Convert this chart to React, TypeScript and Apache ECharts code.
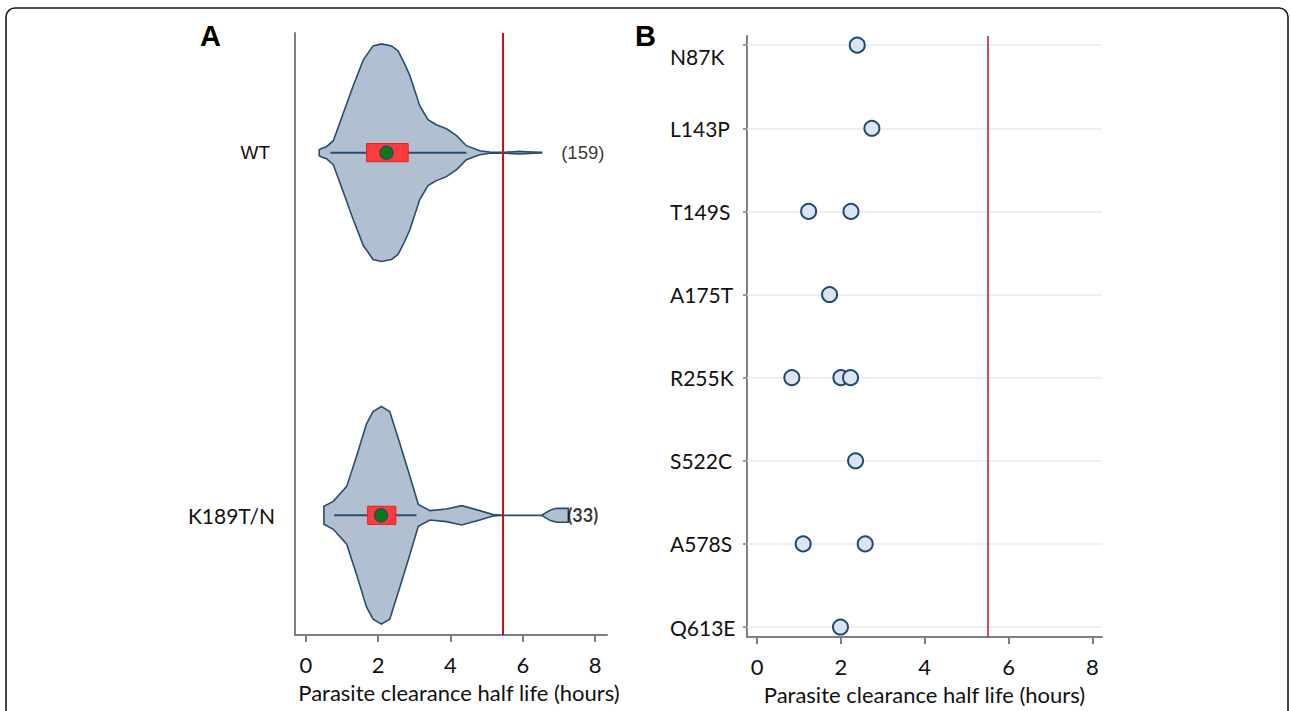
import React, { useEffect, useRef } from "react";
import * as echarts from "echarts";

// ---------- Panel A data ----------
const groupNames = ["K189T/N", "WT"]; // y = 0, 1
const groupCounts = ["(33)", "(159)"];

const wtDensityX = [0.37, 0.45, 0.57, 0.76, 1.04, 1.31, 1.59, 1.86, 2.09, 2.37, 2.55, 2.72, 2.88, 3.15, 3.38, 3.61, 3.89, 4.17, 4.44, 4.81, 5.09, 5.5, 5.75, 5.9, 6.1, 6.3, 6.52];
const wtDensity = [3, 4.5, 6, 12, 40, 67, 93, 107, 109, 107, 102, 90, 77, 47, 33, 28, 24, 17, 7, 2, 0.6, 0.5, 1, 1.3, 1, 0.6, 0.3];

const kDensityX = [0.5, 0.5, 0.76, 1.13, 1.4, 1.68, 1.86, 2.09, 2.32, 2.6, 2.88, 3.11, 3.43, 3.89, 4.31, 4.81, 5.18, 5.5, 6.0, 6.52, 6.75, 6.93, 7.15, 7.26, 7.26];
const kDensity = [0, 9, 14, 29, 59, 92, 104, 109, 104, 72, 39, 11, 4.7, 6.3, 9.7, 4.7, 0.7, 0, 0, 0, 5, 7, 7, 7, 0];

const boxLow = [1.71, 1.68];
const boxHigh = [2.49, 2.83];
const medians = [2.08, 2.23];
const whiskerLow = [0.78, 0.68];
const whiskerHigh = [3.06, 4.44];
const countLabelX = [7.66, 7.66];
const thresholdA = 5.45;

// ---------- Panel B data ----------
const mutations = ["N87K", "L143P", "T149S", "A175T", "R255K", "S522C", "A578S", "Q613E"];
const mutationValues = [[2.39], [2.74], [1.23, 2.24], [1.73], [0.83, 2.0, 2.23], [2.35], [1.1, 2.58], [1.99]];
const thresholdB = 5.5;

const xTicks = [0, 2, 4, 6, 8];
const xTitle = "Parasite clearance half life (hours)";

const FONT = "Lato, 'Noto Sans', sans-serif";
const ARIAL = "'Liberation Sans', Arial, sans-serif";
const AXIS_GREY = "#7f7f7f";
const OUTLINE = "#2b4c6f";

const DENSITY_MAX = 109;
const HALF_WIDTH_MAX = 0.3; // y-axis units
const BOX_HALF = 0.025;

export default function App() {
  const ref = useRef<HTMLDivElement>(null);

  useEffect(() => {
    document.body.style.margin = "0";
    if (!ref.current) return;
    const chart = echarts.init(ref.current, undefined, { renderer: "svg" });

    const densities = [
      { x: kDensityX, d: kDensity },
      { x: wtDensityX, d: wtDensity },
    ];
    const scale = HALF_WIDTH_MAX / DENSITY_MAX;
    const yIdxB = mutations.map((_, i) => mutations.length - 1 - i);

    const xAxisCommon = (min: number, max: number, gridIndex: number, extra: any = {}) => ({
      gridIndex,
      type: "value",
      min,
      max,
      axisLine: { show: true, onZero: false, lineStyle: { color: AXIS_GREY, width: 2 } },
      axisTick: { show: true, customValues: xTicks, length: 7, lineStyle: { color: AXIS_GREY, width: 2 } },
      axisLabel: { customValues: xTicks, fontSize: 22, fontFamily: FONT, color: "#111", margin: 18 },
      splitLine: { show: false },
      name: xTitle,
      nameLocation: "middle",
      nameGap: 46,
      nameTextStyle: { fontSize: 22, fontFamily: FONT, color: "#111", ...extra },
    });

    const option: any = {
      animation: false,
      backgroundColor: "#ffffff",
      graphic: [
        {
          type: "rect",
          shape: { x: 6, y: 8, width: 1282, height: 760, r: 9 },
          style: { fill: "none", stroke: "#1a1a1a", lineWidth: 1.6 },
          silent: true,
        },
        {
          type: "text",
          x: 200,
          y: 21,
          style: { text: "A", font: "bold 29px 'Liberation Sans', Arial, sans-serif", fill: "#000", align: "left", verticalAlign: "top" },
        },
        {
          type: "text",
          x: 635,
          y: 21,
          style: { text: "B", font: "bold 29px 'Liberation Sans', Arial, sans-serif", fill: "#000", align: "left", verticalAlign: "top" },
        },
      ],
      grid: [
        { left: 295, top: 33, width: 312, height: 602 },
        { left: 747, top: 36, width: 355, height: 601 },
      ],
      xAxis: [
        xAxisCommon(-0.3, 8.33, 0, { padding: [0, 0, 0, 16] }),
        xAxisCommon(-0.24, 8.23, 1),
      ],
      yAxis: [
        {
          gridIndex: 0,
          type: "value",
          min: -0.33,
          max: 1.33,
          axisLine: { show: true, onZero: false, lineStyle: { color: AXIS_GREY, width: 2 } },
          axisTick: { show: false },
          splitLine: { show: false },
          axisLabel: {
            customValues: [0, 1],
            margin: 20,
            formatter: (v: number) => {
              const i = Math.round(v);
              return i === 1 ? `{wt|${groupNames[i]}}` : `{k|${groupNames[i]}}`;
            },
            rich: {
              wt: { fontFamily: ARIAL, fontSize: 19, color: "#111", padding: [0, 5, 0, 0] },
              k: { fontFamily: FONT, fontSize: 21, color: "#111" },
            },
          },
        },
        {
          gridIndex: 1,
          type: "value",
          min: -0.12,
          max: 7.11,
          axisLine: { show: true, onZero: false, lineStyle: { color: AXIS_GREY, width: 2 } },
          axisTick: { show: true, customValues: yIdxB, length: 4, lineStyle: { color: AXIS_GREY, width: 1.5 } },
          splitLine: { show: false },
          axisLabel: {
            customValues: yIdxB,
            align: "left",
            margin: 77,
            formatter: (v: number) => {
              const i = mutations.length - 1 - Math.round(v);
              return i === 0 ? `{lo|${mutations[i]}}` : `{n|${mutations[i]}}`;
            },
            rich: {
              lo: { fontFamily: FONT, fontSize: 21, color: "#111", padding: [22, 0, 0, 0] },
              n: { fontFamily: FONT, fontSize: 21, color: "#111" },
            },
          },
        },
      ],
      series: [
        {
          type: "custom",
          name: "violin",
          xAxisIndex: 0,
          yAxisIndex: 0,
          z: 2,
          data: [[0], [1]],
          renderItem: (params: any, api: any) => {
            const g = api.value(0);
            const { x, d } = densities[g];
            const top = x.map((xv: number, i: number) => api.coord([xv, g + d[i] * scale]));
            const bottom = x
              .map((xv: number, i: number) => api.coord([xv, g - d[i] * scale]))
              .reverse();
            return {
              type: "polygon",
              shape: { points: top.concat(bottom) },
              style: { fill: "#b0c0d0", stroke: OUTLINE, lineWidth: 1.6 },
            };
          },
        },
        {
          type: "custom",
          name: "box",
          xAxisIndex: 0,
          yAxisIndex: 0,
          z: 3,
          data: groupNames.map((_, i) => [i, boxLow[i], boxHigh[i], whiskerLow[i], whiskerHigh[i]]),
          renderItem: (params: any, api: any) => {
            const g = api.value(0);
            const wl = api.coord([api.value(3), g]);
            const wh = api.coord([api.value(4), g]);
            const b1 = api.coord([api.value(1), g + BOX_HALF]);
            const b2 = api.coord([api.value(2), g - BOX_HALF]);
            return {
              type: "group",
              children: [
                {
                  type: "line",
                  shape: { x1: wl[0], y1: wl[1], x2: wh[0], y2: wh[1] },
                  style: { stroke: OUTLINE, lineWidth: 2 },
                },
                {
                  type: "rect",
                  shape: { x: b1[0], y: b1[1], width: b2[0] - b1[0], height: b2[1] - b1[1] },
                  style: { fill: "#ff3b3b", stroke: "#e81c1c", lineWidth: 1 },
                },
              ],
            };
          },
        },
        {
          type: "scatter",
          name: "median",
          xAxisIndex: 0,
          yAxisIndex: 0,
          z: 4,
          symbol: "circle",
          symbolSize: 13,
          itemStyle: { color: "#0b7a12", borderColor: OUTLINE, borderWidth: 1.5, opacity: 1 },
          data: medians.map((m, i) => [m, i]),
        },
        {
          type: "scatter",
          name: "counts",
          xAxisIndex: 0,
          yAxisIndex: 0,
          z: 5,
          symbolSize: 0,
          silent: true,
          data: groupCounts.map((c, i) => ({
            value: [countLabelX[i], i],
            label: {
              show: true,
              position: "inside",
              formatter: c,
              color: "#000",
              fontFamily: i === 1 ? ARIAL : FONT,
              fontSize: i === 1 ? 18.5 : 18,
              fontWeight: i === 1 ? "normal" : "bold",
            },
          })),
          markLine: {
            silent: true,
            symbol: ["none", "none"],
            label: { show: false },
            lineStyle: { color: "#cc1010", width: 2, type: "solid" },
            data: [{ xAxis: thresholdA }],
          },
        },
        {
          type: "scatter",
          name: "gridB",
          xAxisIndex: 1,
          yAxisIndex: 1,
          z: 1,
          symbolSize: 0,
          data: [],
          markLine: {
            silent: true,
            z: 1,
            symbol: ["none", "none"],
            label: { show: false },
            lineStyle: { color: "#e4ecee", width: 1.5, type: "solid" },
            data: yIdxB.map((v) => ({ yAxis: v })),
          },
        },
        {
          type: "scatter",
          name: "thresholdB",
          xAxisIndex: 1,
          yAxisIndex: 1,
          z: 2,
          symbolSize: 0,
          data: [],
          markLine: {
            silent: true,
            z: 2,
            symbol: ["none", "none"],
            label: { show: false },
            lineStyle: { color: "#c8203c", width: 1.6, type: "solid" },
            data: [{ xAxis: thresholdB }],
          },
        },
        {
          type: "scatter",
          name: "mutations",
          xAxisIndex: 1,
          yAxisIndex: 1,
          z: 6,
          symbol: "circle",
          symbolSize: 15,
          itemStyle: { color: "#dde3ef", borderColor: "#1f4a78", borderWidth: 2, opacity: 1 },
          data: mutations.flatMap((m, i) => mutationValues[i].map((v) => [v, mutations.length - 1 - i])),
        },
      ],
    };

    chart.setOption(option);
    return () => chart.dispose();
  }, []);

  return <div ref={ref} style={{ width: 1292, height: 711 }} />;
}
